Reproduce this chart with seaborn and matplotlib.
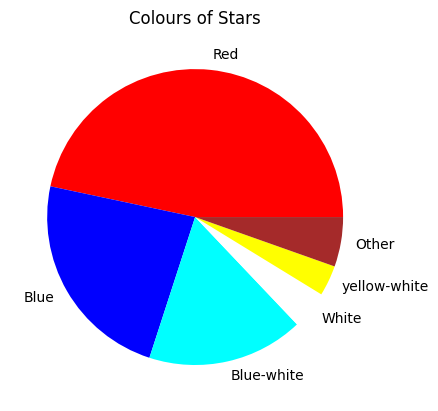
import matplotlib
matplotlib.use('Agg')
import matplotlib.pyplot as plt
import seaborn as sns

# Star colour counts
labels = ['Red', 'Blue', 'Blue-white', 'White', 'yellow-white', 'Other']
counts = [112, 56, 41, 10, 8, 13]
slice_colours = ['red', 'blue', 'cyan', 'white', 'yellow', 'brown']

palette = sns.color_palette(slice_colours)

fig = plt.figure(figsize=(4.38, 4.11), dpi=100)
ax = fig.add_axes([0.023, 0.0219, 0.845, 0.900])
ax.pie(counts, labels=labels, colors=palette)
ax.set_title('Colours of Stars')

fig.savefig('out.png', dpi=100)
